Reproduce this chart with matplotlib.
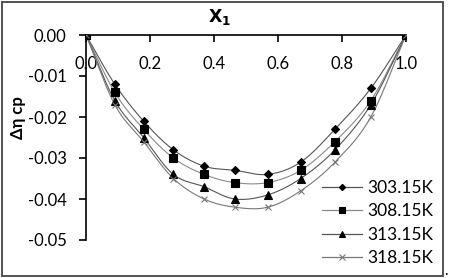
import numpy as np
import matplotlib
matplotlib.use("Agg")
import matplotlib.pyplot as plt
from matplotlib.patches import Rectangle

plt.rcParams['font.family'] = ['Lato', 'DejaVu Sans']

x1 = [0.0, 0.09, 0.18, 0.273, 0.369, 0.465, 0.568, 0.671, 0.778, 0.89, 1.0]
series_labels = ["303.15K", "308.15K", "313.15K", "318.15K"]
d303 = [0.0, -0.012, -0.021, -0.028, -0.032, -0.033, -0.034, -0.031, -0.023, -0.013, 0.0]
d308 = [0.0, -0.014, -0.023, -0.030, -0.034, -0.036, -0.036, -0.033, -0.026, -0.016, 0.0]
d313 = [0.0, -0.016, -0.025, -0.034, -0.037, -0.040, -0.039, -0.035, -0.028, -0.017, 0.0]
d318 = [0.0, -0.017, -0.026, -0.035, -0.040, -0.042, -0.042, -0.038, -0.031, -0.020, 0.0]
xticks = [0.0, 0.2, 0.4, 0.6, 0.8, 1.0]
yticks = [0.00, -0.01, -0.02, -0.03, -0.04, -0.05]


def smooth(x, y, n=20):
    # Catmull-Rom rendering of the line through the data points
    x = np.asarray(x); y = np.asarray(y)
    px = np.concatenate([[2 * x[0] - x[1]], x, [2 * x[-1] - x[-2]]])
    py = np.concatenate([[2 * y[0] - y[1]], y, [2 * y[-1] - y[-2]]])
    ox, oy = [], []
    t = np.linspace(0, 1, n, endpoint=False)
    for i in range(1, len(px) - 2):
        for p, o in ((px, ox), (py, oy)):
            p0, p1, p2, p3 = p[i - 1], p[i], p[i + 1], p[i + 2]
            o.extend(0.5 * ((2 * p1) + (-p0 + p2) * t + (2 * p0 - 5 * p1 + 4 * p2 - p3) * t ** 2
                            + (-p0 + 3 * p1 - 3 * p2 + p3) * t ** 3))
    ox.append(x[-1]); oy.append(y[-1])
    return np.array(ox), np.array(oy)


fig = plt.figure(figsize=(4.5, 2.78), dpi=100)
ax = fig.add_axes([86 / 450, 1 - 240 / 278, 320 / 450, 205 / 278])

styles = [
    dict(marker='D', ms=4.0, mfc='black', mec='black', line='#555555'),
    dict(marker='s', ms=5.5, mfc='black', mec='black', line='#8a8a8a'),
    dict(marker='^', ms=5.5, mfc='black', mec='black', line='#555555'),
    dict(marker='x', ms=5.0, mfc='#777777', mec='#777777', line='#777777'),
]
for data, lab, st in zip([d303, d308, d313, d318], series_labels, styles):
    sx, sy = smooth(x1, data)
    ax.plot(sx, sy, color=st['line'], lw=0.8, zorder=2)
    ax.plot(x1, data, linestyle='none', marker=st['marker'], ms=st['ms'],
            mfc=st['mfc'], mec=st['mec'], mew=0.8, zorder=3)
    ax.plot([], [], color=st['line'], lw=0.9, marker=st['marker'], ms=st['ms'] * 0.8,
            mfc=st['mfc'], mec=st['mec'], mew=0.8, label=lab)

ax.set_xlim(0, 1.0)
ax.set_ylim(-0.05, 0.0)
ax.set_xticks(xticks)
ax.set_xticklabels([f"{v:.1f}" for v in xticks])
ax.set_yticks(yticks)
ax.set_yticklabels([f"{v:.2f}" for v in yticks])
ax.spines['top'].set_visible(False)
ax.spines['right'].set_visible(False)
ax.spines['bottom'].set_position(('data', 0.0))
ax.spines['bottom'].set_zorder(1)
for s in ('left', 'bottom'):
    ax.spines[s].set_linewidth(1.2)
ax.tick_params(axis='both', direction='out', length=5, width=1.2, labelsize=12)
ax.tick_params(axis='y', pad=9)
ax.tick_params(axis='x', pad=10)
ax.patch.set_alpha(0)

fig.text(220 / 450, 1 - 17 / 278, r"$\mathbf{X_1}$", ha='center', va='center', fontsize=12.5)
fig.text(18 / 450, 1 - 118 / 278, "Δη cp", rotation=90, ha='center', va='center',
         fontsize=12, fontweight='bold')

leg = fig.legend(loc='upper left', bbox_to_anchor=(322 / 450, 1 - 180 / 278), frameon=False,
                 fontsize=12.5, handlelength=2.3, handletextpad=0.3, labelspacing=0.42,
                 borderpad=0, borderaxespad=0)

fig.patches.append(Rectangle((2 / 450, 2 / 278), 441 / 450, 274 / 278, transform=fig.transFigure,
                             fill=False, edgecolor='#444444', linewidth=1.3))
fig.text(446 / 450, 1 - 271 / 278, ".", ha='center', va='center', fontsize=11)

fig.savefig("out.png", dpi=100)
